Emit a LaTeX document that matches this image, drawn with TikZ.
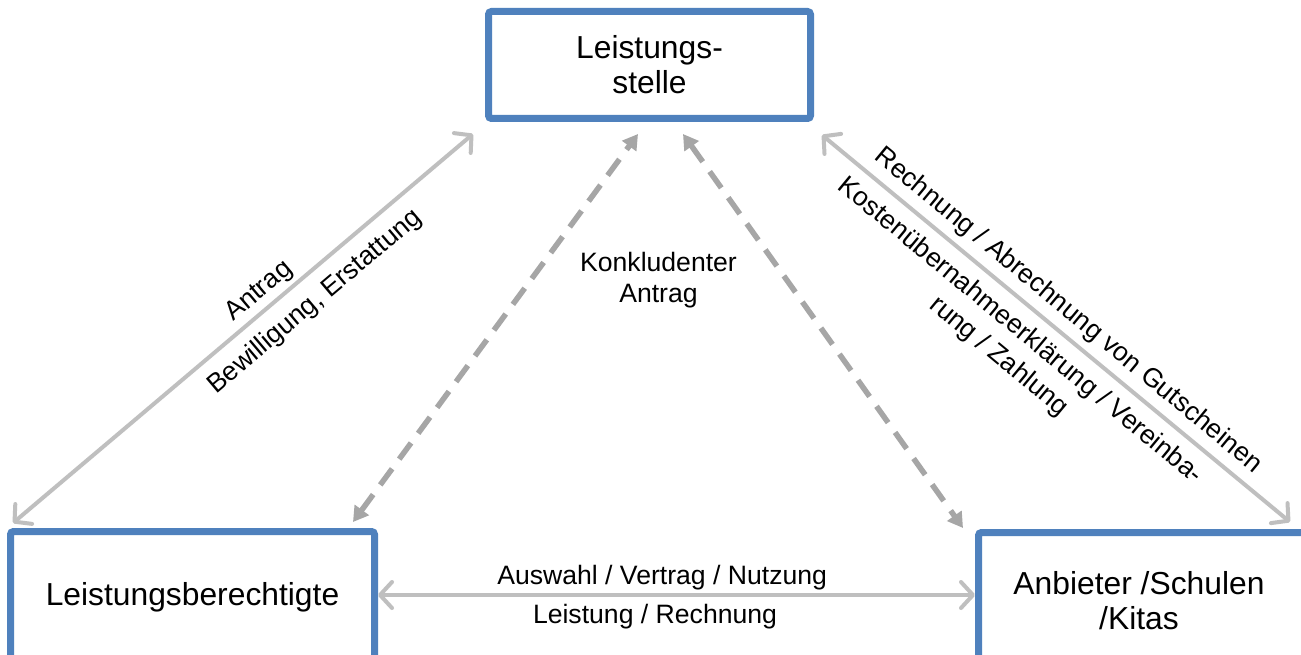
\documentclass[tikz,border=0pt]{standalone}
\usepackage{fontspec}
\setmainfont{Liberation Sans}
\usetikzlibrary{arrows.meta,calc}
\definecolor{boxblue}{HTML}{4F81BD}
\definecolor{lgray}{HTML}{BFBFBF}
\definecolor{dgray}{HTML}{A6A6A6}
\begin{document}
\begin{tikzpicture}[x=1pt,y=-1pt,
  box/.style={draw=boxblue,line width=7pt,fill=white,rounded corners=3pt,inner sep=0pt,outer sep=0pt},
  boxtext/.style={font=\fontsize{31.8}{35}\selectfont,align=center,inner sep=0pt},
  lbl/.style={font=\fontsize{26.6}{31}\selectfont,align=center,inner sep=0pt,text=black},
  solidarrow/.style={draw=lgray,line width=4pt,
    {Straight Barb[length=12pt,width=26pt,round]}-{Straight Barb[length=12pt,width=26pt,round]}},
  dasharrow/.style={draw=dgray,line width=5.5pt,dash pattern=on 20pt off 12pt,
    {Triangle[length=15pt,width=17pt]}-{Triangle[length=15pt,width=17pt]}}]
\useasboundingbox (0,0) rectangle (1301,655);
\begin{scope}
\clip (0,0) rectangle (1301,655);
\fill[white] (0,0) rectangle (1301,655);
% boxes
\node[box,minimum width=322pt,minimum height=107pt] (ts) at (649.5,65) {};
\node[box,minimum width=364pt,minimum height=136pt,anchor=north west] (lb) at (10.5,531.5) {};
\node[box,minimum width=352pt,minimum height=136pt,anchor=north west] (rb) at (978.5,532.5) {};
% box texts
\node[boxtext] (tst) at (649.5,65) {Leistungs-\\stelle};
\node[boxtext,anchor=base] (lbt) at (192.5,605) {Leistungsberechtigte};
\node[boxtext] (rbt) at (1139,601) {Anbieter /Schulen\\/Kitas};
% connectors
\draw[solidarrow] ($(lb.north west)+(2.5,-8.5)$) -- ($(ts.south west)+(-15.5,15.5)$)
  node[lbl,pos=0.56,sloped,above=3.6pt] (l1) {Antrag}
  node[lbl,pos=0.62,sloped,below=12pt] (l2) {Bewilligung, Erstattung};
\draw[dasharrow] ($(lb.north east)+(-21.5,-9.5)$) -- ($(ts.south)+(-11.5,15.5)$);
\draw[dasharrow] ($(ts.south)+(33.5,15.5)$) -- ($(rb.north west)+(-15.5,-4.5)$);
\draw[solidarrow] ($(ts.south east)+(11.5,16.5)$) -- ($(rb.north west)+(311.5,-10.5)$)
  node[lbl,pos=0.497,sloped,above=7pt] (l3) {Rechnung / Abrechnung von Gutscheinen}
  node[lbl,pos=0.457,sloped,below=10.5pt,font=\fontsize{26.6}{33.5}\selectfont] (l4) {Kostenübernahmeerklärung / Vereinba-\\rung / Zahlung};
\draw[solidarrow] ($(lb.north east)+(3.5,63.5)$) -- ($(rb.north west)+(-3.5,62.5)$)
  node[lbl,pos=0.476,above=3.4pt] (l5) {Auswahl / Vertrag / Nutzung}
  node[lbl,pos=0.464,below=7.6pt] (l6) {Leistung / Rechnung};
\node[lbl] (l7) at (658.5,280.6) {Konkludenter\\Antrag};
\end{scope}
\end{tikzpicture}
\end{document}
